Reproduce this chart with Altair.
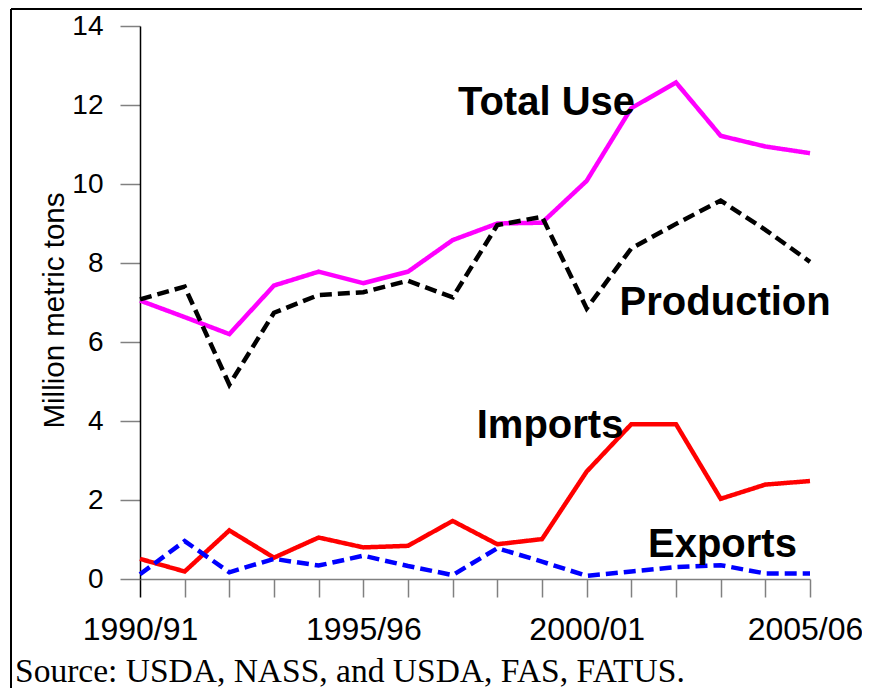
import altair as alt
import pandas as pd

# ---- data ----
years = ["1990/91", "1991/92", "1992/93", "1993/94", "1994/95", "1995/96",
         "1996/97", "1997/98", "1998/99", "1999/00", "2000/01", "2001/02",
         "2002/03", "2003/04", "2004/05", "2005/06"]
total_use = [7.05, 6.63, 6.20, 7.43, 7.78, 7.49, 7.78, 8.58, 9.00, 9.02,
             10.08, 11.92, 12.57, 11.22, 10.95, 10.78]
production = [7.08, 7.40, 4.92, 6.74, 7.19, 7.26, 7.55, 7.13, 8.96, 9.17,
              6.85, 8.37, 8.99, 9.58, 8.84, 8.03]
imports = [0.51, 0.19, 1.23, 0.54, 1.05, 0.80, 0.84, 1.47, 0.88, 1.01,
           2.72, 3.92, 3.92, 2.03, 2.39, 2.48]
exports = [0.12, 0.96, 0.17, 0.51, 0.34, 0.59, 0.33, 0.10, 0.78, 0.44,
           0.08, 0.19, 0.30, 0.35, 0.14, 0.14]

series_names = ["Total Use", "Production", "Imports", "Exports"]
series_colors = ["#ff00ff", "#000000", "#ff0000", "#0000ff"]
series_dash = [[1, 0], [12, 6], [1, 0], [12, 6]]

# label anchors (in data units: start year, value)
label_text = ["Total Use", "Production", "Imports", "Exports"]
label_year = [1999.1, 2003.1, 1999.18, 2003.04]
label_value = [11.75, 6.68, 3.57, 0.56]

source_note = "Source: USDA, NASS, and USDA, FAS, FATUS."

# ---- build tables ----
start = [int(y[:4]) for y in years]
rows = []
for name, vals in zip(series_names, [total_use, production, imports, exports]):
    for s, v in zip(start, vals):
        rows.append({"start": s, "value": v, "series": name})
df = pd.DataFrame(rows)
labels_df = pd.DataFrame({"text": label_text, "start": label_year, "value": label_value})
one = pd.DataFrame({"a": [0]})

W, H = 670, 553
FONT = "Liberation Sans"

x_enc = alt.X(
    "start:Q",
    scale=alt.Scale(domain=[1990, 2005], nice=False, zero=False),
    axis=alt.Axis(
        values=start,
        labelExpr="datum.value % 5 == 0 ? datum.value + '/' + slice(toString(datum.value + 1), 2) : ''",
        title=None,
        grid=False,
        domainColor="#808080",
        domainWidth=1.5,
        tickColor={"condition": {"test": "datum.value == 1990", "value": "#000000"}, "value": "#808080"},
        tickWidth=1.5,
        tickSize=18,
        labelFont=FONT,
        labelFontSize=32,
        labelColor="black",
        labelPadding=17,
        labelOffset={"condition": {"test": "datum.value == 2005", "value": -5}, "value": 0},
        labelOverlap=False,
        labelFlush=False,
    ),
)
y_enc = alt.Y(
    "value:Q",
    scale=alt.Scale(domain=[0, 14], nice=False),
    axis=alt.Axis(
        values=[0, 2, 4, 6, 8, 10, 12, 14],
        title="Million metric tons",
        titleFont=FONT,
        titleFontSize=29.5,
        titleFontWeight="normal",
        titleColor="black",
        titleAngle=-90,
        titleX=-77,
        titleY=284,
        titleAlign="center",
        titleBaseline="alphabetic",
        grid=False,
        domainColor="#000000",
        domainWidth=1.5,
        tickColor="#808080",
        tickWidth=1.5,
        tickSize=20,
        labelFont=FONT,
        labelFontSize=28,
        labelColor="black",
        labelPadding=17,
    ),
)

lines = alt.Chart(df).mark_line(strokeWidth=4.5, strokeJoin="miter").encode(
    x=x_enc,
    y=y_enc,
    color=alt.Color("series:N", scale=alt.Scale(domain=series_names, range=series_colors), legend=None),
    strokeDash=alt.StrokeDash("series:N", scale=alt.Scale(domain=series_names, range=series_dash), legend=None),
    order=alt.Order("start:Q"),
)

labels = alt.Chart(labels_df).mark_text(
    font=FONT, fontSize=40, fontWeight="bold", color="black",
    align="center", baseline="alphabetic",
).encode(x="start:Q", y="value:Q", text="text:N")

source = alt.Chart(one).mark_text(
    font="Liberation Serif", fontSize=33.5, color="black", align="left", baseline="alphabetic",
).encode(x=alt.value(-125), y=alt.value(656), text=alt.value(source_note))

frame_top = alt.Chart(one).mark_rule(color="black", strokeWidth=2).encode(
    x=alt.value(-129), x2=alt.value(W + 60), y=alt.value(-17), y2=alt.value(-17)
)
frame_left = alt.Chart(one).mark_rule(color="black", strokeWidth=2).encode(
    x=alt.value(-129), x2=alt.value(-129), y=alt.value(-17), y2=alt.value(H + 140)
)

chart = alt.layer(lines, labels, source, frame_top, frame_left).properties(
    width=W,
    height=H,
    padding={"left": 132, "top": 18, "right": 52, "bottom": 109},
    autosize=alt.AutoSizeParams(type="none"),
).configure_view(stroke=None)

chart.save("out.html", embed_options={"renderer": "svg", "actions": False})
